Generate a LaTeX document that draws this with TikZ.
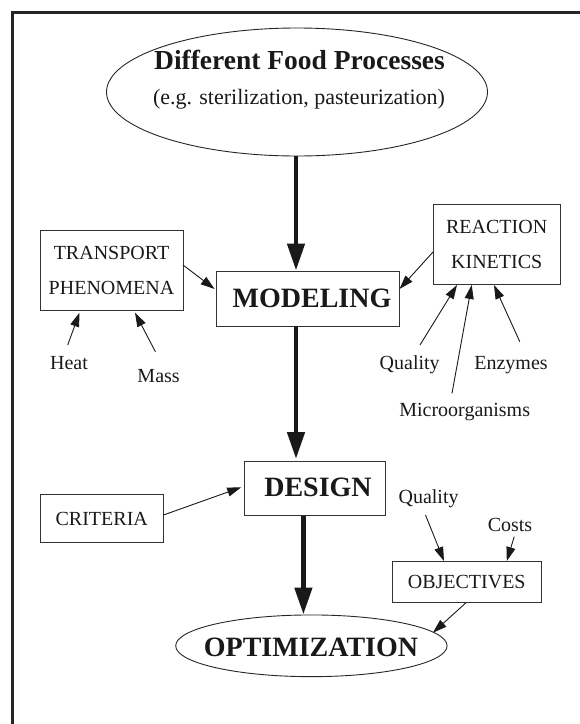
\documentclass[tikz,border=0pt]{standalone}
\usepackage{fontspec}
\setmainfont{Liberation Serif}
\usetikzlibrary{arrows.meta,shapes.geometric,calc}
\begin{document}
\begin{tikzpicture}[x=1pt,y=-1pt,
  box/.style={draw=black!80, line width=0.9pt, inner sep=0pt},
  oval/.style={ellipse, draw=black!85, line width=0.9pt, inner sep=0pt},
  bigtxt/.style={inner sep=0pt, text=black!90, font=\bfseries\fontsize{28}{30}\selectfont},
  smalltxt/.style={text=black!90, font=\fontsize{20}{35}\selectfont, align=center},
  lbl/.style={inner sep=0pt, anchor=base, text=black!90, font=\fontsize{20}{24}\selectfont},
  bigarrow/.style={draw=black!90, line width=4.7pt, -{Triangle[length=27pt,width=17pt]}},
  smallarrow/.style={draw=black!90, line width=0.9pt, -{Triangle[length=14pt,width=9pt]}}
]
\useasboundingbox (0,0) rectangle (580,724);
% outer frame (right and bottom sides lie outside the picture)
\draw[black!85, line width=3pt, line join=miter] (12,724) -- (12,12) -- (580,12);

% main chain
\node[oval, minimum width=381pt, minimum height=128pt] (proc) at (297,92) {};
\node[inner sep=0pt, anchor=base, text=black!90, font=\bfseries\fontsize{27.5}{30}\selectfont] (proct) at (299.5,69) {Different Food Processes};
\node[inner sep=0pt, anchor=base, text=black!90, font=\fontsize{22}{24}\selectfont] (procs) at (299,104) {(e.g. sterilization, pasteurization)};

\node[box, minimum width=183pt, minimum height=55pt] (model) at (307.5,298.5) {};
\node[bigtxt] (modelt) at (312,298) {MODELING};
\node[box, minimum width=141.5pt, minimum height=54.7pt] (design) at (314.8,488.3) {};
\node[bigtxt] (designt) at (318,487.5) {DESIGN};
\node[oval, minimum width=271.4pt, minimum height=61.7pt] (opt) at (311.4,645.8) {};
\node[bigtxt] (optt) at (311,647) {OPTIMIZATION};

% side boxes
\node[box, minimum width=143pt, minimum height=80pt, smalltxt] (trans) at (111.5,270.7) {TRANSPORT\\PHENOMENA};
\node[box, minimum width=127.5pt, minimum height=80pt, smalltxt] (react) at (496.7,244) {REACTION\\KINETICS};
\node[box, minimum width=123.5pt, minimum height=48.4pt, smalltxt] (crit) at (101.75,518.5) {CRITERIA};
\node[box, minimum width=149.3pt, minimum height=41pt, smalltxt] (obj) at (466.7,582.2) {OBJECTIVES};

% labels
\node[lbl] (heat) at (69,369.6) {Heat};
\node[lbl] (mass) at (158.6,382.6) {Mass};
\node[lbl] (qual1) at (409.7,369.6) {Quality};
\node[lbl] (enz) at (511,369.6) {Enzymes};
\node[lbl] (micro) at (464.7,416) {Microorganisms};
\node[lbl] (qual2) at (428.6,503) {Quality};
\node[lbl] (costs) at (510,531.6) {Costs};

% thick arrows
\coordinate (ax1) at (296,0);
\coordinate (ax2) at (303.4,0);
\draw[bigarrow] (ax1 |- proc.south) -- (ax1 |- model.north);
\draw[bigarrow] (ax1 |- model.south) -- ($(ax1 |- design.north)+(0,-1.5)$);
\draw[bigarrow] (ax2 |- design.south) -- (ax2 |- opt.north);

% thin arrows
\draw[smallarrow] ($(trans.center)+(71.5,-5.7)$) -- ($(model.center)+(-92.9,-9.5)$);
\draw[smallarrow] ($(heat.base)+(-1.3,-24.6)$) -- ($(trans.center)+(-32,42)$);
\draw[smallarrow] ($(mass.base)+(-3.2,-30.9)$) -- ($(trans.center)+(23.5,42)$);
\draw[smallarrow] ($(react.center)+(-63.7,8)$) -- ($(model.center)+(92,-9.5)$);
\draw[smallarrow] ($(qual1.base)+(10.3,-24.6)$) -- ($(react.center)+(-39.7,41)$);
\draw[smallarrow] ($(micro.base)+(-12.7,-22.7)$) -- ($(react.center)+(-25,41)$);
\draw[smallarrow] ($(enz.base)+(8.8,-27.9)$) -- ($(react.center)+(-2.7,41)$);
\draw[smallarrow] ($(crit.center)+(61.75,-3.5)$) -- ($(design.center)+(-73.6,-1)$);
\draw[smallarrow] ($(qual2.base)+(-3.1,12)$) -- ($(obj.center)+(-22.7,-21.2)$);
\draw[smallarrow] ($(costs.base)+(4.2,5.1)$) -- ($(obj.center)+(40.1,-21.2)$);
\draw[smallarrow] ($(obj.center)+(-0.7,20.5)$) -- ($(opt.center)+(121.5,-13.1)$);
\end{tikzpicture}
\end{document}
